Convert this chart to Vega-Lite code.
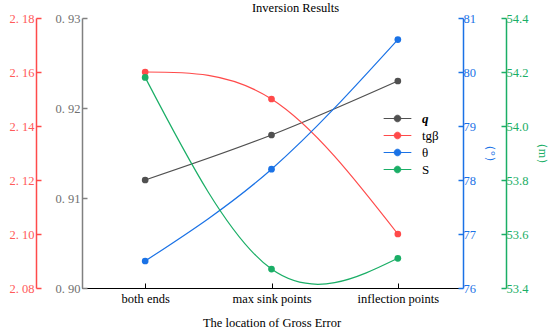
{
  "$schema": "https://vega.github.io/schema/vega-lite/v6.json",
  "autosize": {"type": "none"},
  "width": 379,
  "height": 270,
  "padding": {"left": 82, "top": 18, "right": 89, "bottom": 44},
  "background": "white",
  "config": {
    "view": {"stroke": null},
    "font": "Liberation Serif",
    "text": {"font": "Liberation Serif"},
    "legend": {"labelFont": "Liberation Serif"},
    "axis": {"labelFont": "Liberation Serif", "titleFont": "Liberation Serif", "grid": false, "labelFontSize": 12, "titleFontWeight": "normal", "tickSize": -5, "domainWidth": 1.5, "tickWidth": 1.5}
  },
  "title": {"text": "Inversion Results", "fontSize": 12.5, "fontWeight": "normal", "font": "Liberation Serif", "color": "black", "dx": 24, "offset": -2},
  "data": {"values": [
    {"loc": "both ends", "series": "q", "value": 0.912},
    {"loc": "max sink points", "series": "q", "value": 0.917},
    {"loc": "inflection points", "series": "q", "value": 0.923},
    {"loc": "both ends", "series": "tgβ", "value": 2.160},
    {"loc": "max sink points", "series": "tgβ", "value": 2.150},
    {"loc": "inflection points", "series": "tgβ", "value": 2.100},
    {"loc": "both ends", "series": "θ", "value": 76.5},
    {"loc": "max sink points", "series": "θ", "value": 78.2},
    {"loc": "inflection points", "series": "θ", "value": 80.6},
    {"loc": "both ends", "series": "S", "value": 54.18},
    {"loc": "max sink points", "series": "S", "value": 53.47},
    {"loc": "inflection points", "series": "S", "value": 53.51}
  ]},
  "encoding": {
    "x": {"field": "loc", "type": "ordinal", "sort": ["both ends", "max sink points", "inflection points"],
      "scale": {"type": "point", "padding": 0.5},
      "axis": {"title": "The location of Gross Error", "labelFont": "Liberation Serif", "titleFont": "Liberation Serif", "labelAngle": 0, "domainColor": "black", "tickColor": "black", "labelColor": "black", "titleColor": "black", "labelPadding": 9, "labelFontSize": 12.5, "titleFontSize": 12.5, "titlePadding": 12, "domainWidth": 1.2, "tickWidth": 1}},
    "color": {"field": "series", "type": "nominal",
      "scale": {"domain": ["q", "tgβ", "θ", "S"], "range": ["#505050", "#ff4a4a", "#1a72e6", "#1aae66"]},
      "legend": {"orient": "none", "legendX": 306, "legendY": 91, "title": null, "labelFont": "Liberation Serif", "labelFontSize": 13, "labelColor": "black", "symbolType": "M -1.6 0 L 1.6 0 M 0.38 0 A 0.38 0.38 0 1 1 -0.38 0 A 0.38 0.38 0 1 1 0.38 0", "symbolSize": 300, "symbolStrokeWidth": 1, "rowPadding": 0, "labelOffset": 15,
        "encode": {"labels": {"update": {"font": {"value": "Liberation Serif"}, "fontStyle": {"signal": "datum.value === 'q' ? 'italic' : 'normal'"}, "fontWeight": {"signal": "datum.value === 'q' ? 'bold' : 'normal'"}}}}}
    }
  },
  "layer": [
    {
      "transform": [{"filter": "datum.series === 'q'"}],
      "encoding": {"y": {"field": "value", "type": "quantitative", "scale": {"domain": [0.90, 0.93], "nice": false, "zero": false},
        "axis": {"orient": "left", "title": null, "labelFont": "Liberation Serif", "values": [0.90, 0.91, 0.92, 0.93], "format": ".2f", "labelExpr": "replace(datum.label, '.', '. ')", "domainColor": "#808080", "tickColor": "#808080", "labelColor": "#707070", "labelPadding": 7, "labelFontSize": 12.5}}},
      "layer": [
        {"mark": {"type": "line", "interpolate": "natural", "strokeWidth": 1.2, "color": "#606060"}},
        {"mark": {"type": "point", "filled": true, "size": 45, "opacity": 1}}
      ]
    },
    {
      "transform": [{"filter": "datum.series === 'tgβ'"}],
      "encoding": {"y": {"field": "value", "type": "quantitative", "scale": {"domain": [2.08, 2.18], "nice": false, "zero": false},
        "axis": {"orient": "left", "offset": 46, "title": null, "labelFont": "Liberation Serif", "values": [2.08, 2.10, 2.12, 2.14, 2.16, 2.18], "format": ".2f", "labelExpr": "replace(datum.label, '.', '. ')", "domainColor": "#ff4a4a", "tickColor": "#ff4a4a", "labelColor": "#ff5a5a", "labelPadding": 7, "labelFontSize": 12.5}}},
      "layer": [
        {"mark": {"type": "line", "interpolate": "natural", "strokeWidth": 1.2}},
        {"mark": {"type": "point", "filled": true, "size": 45, "opacity": 1}}
      ]
    },
    {
      "transform": [{"filter": "datum.series === 'θ'"}],
      "encoding": {"y": {"field": "value", "type": "quantitative", "scale": {"domain": [76, 81], "nice": false, "zero": false},
        "axis": {"orient": "right", "offset": 2, "title": "（°）", "labelFont": "Liberation Serif", "titleFont": "Liberation Serif", "values": [76, 77, 78, 79, 80, 81], "domainColor": "#1a72e6", "tickColor": "#1a72e6", "labelColor": "#1a72e6", "titleColor": "#1a72e6", "titleFontSize": 12, "labelFontSize": 12.5, "labelPadding": 5, "titlePadding": 8}}},
      "layer": [
        {"mark": {"type": "line", "interpolate": "natural", "strokeWidth": 1.2}},
        {"mark": {"type": "point", "filled": true, "size": 45, "opacity": 1}}
      ]
    },
    {
      "transform": [{"filter": "datum.series === 'S'"}],
      "encoding": {"y": {"field": "value", "type": "quantitative", "scale": {"domain": [53.4, 54.4], "nice": false, "zero": false},
        "axis": {"orient": "right", "offset": 45, "title": "（m）", "labelFont": "Liberation Serif", "titleFont": "Liberation Serif", "values": [53.4, 53.6, 53.8, 54.0, 54.2, 54.4], "format": ".1f", "domainColor": "#1aae66", "tickColor": "#1aae66", "labelColor": "#1aae66", "titleColor": "#1aae66", "titleFontSize": 12, "labelFontSize": 12.5, "labelPadding": 5, "titlePadding": 8}}},
      "layer": [
        {"mark": {"type": "line", "interpolate": "natural", "strokeWidth": 1.2}},
        {"mark": {"type": "point", "filled": true, "size": 45, "opacity": 1}}
      ]
    }
  ],
  "resolve": {"scale": {"y": "independent"}}
}
